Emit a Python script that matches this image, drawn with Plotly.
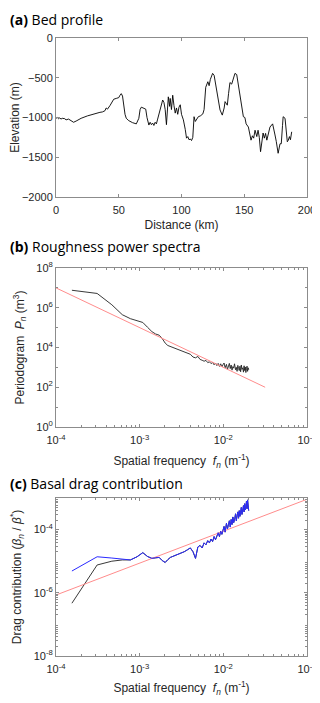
import plotly.graph_objects as go
from plotly.subplots import make_subplots

# (a) bed profile along the flowline
distance_km = [
    0, 1, 2, 3, 4, 5, 7, 8, 10, 12, 14, 16, 20, 25, 30, 35, 37, 39, 40, 41,
    43, 46, 48, 50, 51, 52, 53, 54, 55, 56, 58, 61, 64, 66, 67, 68, 70, 71.5,
    72.5, 74, 75, 76, 77, 78, 79, 80, 81, 83, 85, 86, 87, 88, 89, 89.5, 90.5,
    91, 92, 93, 94, 95, 96, 97, 98, 99, 100, 101.5, 103, 104, 105, 106, 107,
    108, 109, 110, 111, 112, 113.4, 115, 117, 118, 119.3, 121, 122, 123,
    124.8, 126, 127, 128, 129.5, 130.7, 132.5, 134, 134.7, 135.5, 136.5,
    137.5, 138.6, 140, 141, 142.6, 144, 145, 146.6, 148, 149.3, 150.5, 151.5,
    153.3, 154.5, 155.4, 156.5, 157.5, 158.6, 160, 161, 162, 163, 164, 165,
    166, 167, 168, 169.5, 170.5, 172.6, 173.5, 174.5, 175.5, 177, 178.5,
    179.5, 180.5, 181, 182.5, 183.5, 184.3, 185, 186, 186.8, 187.8,
]
elevation_m = [
    -1010, -1000, -1015, -1005, -1020, -1010, -1015, -1030, -1020, -1040,
    -1060, -1045, -1010, -980, -955, -935, -930, -915, -880, -895, -850, -770,
    -760, -750, -720, -700, -730, -860, -960, -1010, -1040, -1065, -1080,
    -1010, -900, -870, -880, -895, -1000, -1095, -1060, -1090, -1070, -1100,
    -1060, -1080, -1020, -880, -780, -810, -900, -1090, -800, -740, -860,
    -760, -900, -720, -850, -945, -880, -960, -870, -840, -960, -1030, -1150,
    -1260, -1240, -1280, -1270, -1290, -1250, -990, -1050, -1030, -990, -980,
    -955, -900, -620, -550, -600, -520, -445, -470, -560, -700, -820, -905,
    -970, -880, -800, -830, -845, -700, -560, -580, -520, -445, -460, -560,
    -700, -850, -990, -1000, -1080, -1120, -1200, -1285, -1230, -1260, -1160,
    -1240, -1160, -1250, -1430, -1300, -1195, -1260, -1200, -1285, -1200,
    -1120, -1080, -1130, -1220, -1300, -1450, -1330, -1330, -1100, -990,
    -1010, -1150, -1305, -1290, -1240, -1280, -1180,
]

# (b), (c) spectral frequencies (m^-1)
freq = [
    1.55e-4, 3.1e-4, 4.65e-4, 6.2e-4, 7.75e-4, 9.3e-4, 1.09e-3, 1.24e-3,
    1.40e-3, 1.55e-3, 1.71e-3, 1.86e-3, 2.02e-3, 2.17e-3, 2.33e-3, 2.48e-3,
    2.79e-3, 3.10e-3, 3.41e-3, 3.72e-3, 4.03e-3, 4.34e-3, 4.65e-3, 4.96e-3,
    5.27e-3, 5.58e-3, 5.89e-3, 6.20e-3, 6.51e-3, 6.82e-3, 7.13e-3, 7.44e-3,
    7.75e-3, 8.06e-3, 8.37e-3, 8.68e-3, 8.99e-3, 9.30e-3, 9.61e-3, 9.92e-3,
    1.02e-2, 1.05e-2, 1.09e-2, 1.12e-2, 1.15e-2, 1.18e-2, 1.21e-2, 1.24e-2,
    1.27e-2, 1.30e-2, 1.33e-2, 1.36e-2, 1.40e-2, 1.43e-2, 1.46e-2, 1.49e-2,
    1.52e-2, 1.55e-2, 1.58e-2, 1.61e-2, 1.64e-2, 1.67e-2, 1.71e-2, 1.74e-2,
    1.77e-2, 1.80e-2, 1.83e-2, 1.86e-2, 1.89e-2, 1.92e-2, 1.95e-2, 1.98e-2,
    2.01e-2,
]
# log10 of periodogram P_n (m^3)
log_periodogram = [
    6.88, 6.72, 6.15, 5.65, 5.45, 5.36, 5.26, 5.02, 4.80, 4.68, 4.62, 4.45,
    4.22, 4.10, 4.05, 4.01,
    3.93, 3.86, 3.76, 3.70, 3.66, 3.52, 3.48, 3.55, 3.40, 3.36, 3.31, 3.35,
    3.24, 3.28, 3.19, 3.25, 3.13, 3.22, 3.09, 3.20, 3.05, 3.18, 3.02, 3.14,
    3.22, 2.98, 3.15, 2.90, 3.08, 3.20, 2.94, 3.12, 2.86, 3.04, 2.96, 3.18,
    2.88, 3.00, 2.80, 3.10, 2.95, 2.84, 3.06, 2.78, 3.12, 2.90, 2.98, 2.76,
    3.08, 2.84, 3.02, 2.74, 2.94, 3.06, 2.80, 2.98, 2.88,
]
# log10 of drag contribution beta_n / beta*
log_drag_blue = [
    -5.31, -4.86, -4.90, -4.93, -4.96, -4.86, -4.73, -4.85, -4.91, -4.89,
    -4.88, -4.98, -5.04, -4.95, -4.88, -4.85,
    -4.80, -4.76, -4.70, -4.64, -4.58, -4.70, -4.91, -4.55, -4.50, -4.58,
    -4.42, -4.48, -4.35, -4.42, -4.30, -4.38, -4.22, -4.32, -4.18, -4.10,
    -4.22, -4.05, -4.15, -3.98,
    -3.90, -4.08, -3.80, -3.98, -3.86, -3.72, -3.92, -3.68, -3.84, -3.60,
    -3.78, -3.70, -3.50, -3.72, -3.56, -3.44, -3.64, -3.40, -3.58, -3.46,
    -3.30, -3.52, -3.36, -3.24, -3.44, -3.18, -3.38, -3.30, -3.10, -3.34,
    -3.06, -3.22, -3.40,
]
log_drag_black_head = [-6.33, -5.12, -5.00, -4.96]
log_drag_black = log_drag_black_head + log_drag_blue[4:]

# power-law reference lines
fit_b_freq = [1e-4, 3.16e-2]
fit_b_P = [1e7, 1e2]
fit_c_freq = [1e-4, 1e-1]
fit_c_drag = [8.5e-7, 9.1e-4]

AX = "#8c8c8c"
TXT = "#262626"
FONT = "Liberation Sans, Arial, sans-serif"

fig = make_subplots(rows=3, cols=1)

fig.add_trace(go.Scatter(x=distance_km, y=elevation_m, mode="lines",
                         line=dict(color="black", width=0.9)), row=1, col=1)

fig.add_trace(go.Scatter(x=freq, y=[10 ** v for v in log_periodogram], mode="lines",
                         line=dict(color="#222222", width=0.9)), row=2, col=1)
fig.add_trace(go.Scatter(x=fit_b_freq, y=fit_b_P, mode="lines",
                         line=dict(color="#ff8c8c", width=1)), row=2, col=1)

fig.add_trace(go.Scatter(x=freq, y=[10 ** v for v in log_drag_black], mode="lines",
                         line=dict(color="#222222", width=0.9)), row=3, col=1)
fig.add_trace(go.Scatter(x=fit_c_freq, y=fit_c_drag, mode="lines",
                         line=dict(color="#ff8c8c", width=1)), row=3, col=1)
fig.add_trace(go.Scatter(x=freq, y=[10 ** v for v in log_drag_blue], mode="lines",
                         line=dict(color="#2a2aff", width=1)), row=3, col=1)

# the page body keeps its default 8px margin, so work in window pixels minus 8
OFF = 8
W, H = 320 - OFF, 703 - OFF


def px_x(x):
    return (x - OFF) / W


def px_y(y):
    return 1 - (y - OFF) / H


def ydom(top, bottom):
    return [px_y(bottom), px_y(top)]


xdom = [px_x(56), px_x(307)]
common = dict(showline=True, linecolor=AX, linewidth=1, mirror="ticks",
              ticks="inside", ticklen=3, tickcolor=AX, showgrid=False,
              zeroline=False, automargin=False,
              tickfont=dict(family=FONT, size=11, color=TXT),
              title_font=dict(family=FONT, size=12, color=TXT))


def log_minor(lo, hi):
    return [m * 10.0 ** k for k in range(lo, hi) for m in range(2, 10)]


def pow_text(exps):
    return ["10<sup>%d</sup>" % e for e in exps]


fig.update_xaxes(common)
fig.update_yaxes(common)
fig.update_xaxes(ticklabelstandoff=3)

fig.update_xaxes(row=1, col=1, domain=xdom, range=[0, 200], tickvals=[0, 50, 100, 150, 200],
                 title_text="Distance (km)", title_standoff=5)
fig.update_yaxes(row=1, col=1, domain=ydom(38, 197), range=[-2000, 0],
                 tickvals=[-2000, -1500, -1000, -500, 0], title_text="Elevation (m)",
                 title_standoff=6)

xexp = [-4, -3, -2, -1]
minor_x = dict(ticks="inside", ticklen=2, tickcolor=AX, tickmode="array",
               tickvals=log_minor(-4, -1))
fig.update_xaxes(row=2, col=1, domain=xdom, type="log", range=[-4, -1],
                 tickvals=[10.0 ** e for e in xexp], ticktext=pow_text(xexp), minor=minor_x,
                 title_text="Spatial frequency  <i>f</i><sub><i>n</i></sub> (m<sup>-1</sup>)",
                 title_standoff=11)
bexp = [0, 2, 4, 6, 8]
fig.update_yaxes(row=2, col=1, domain=ydom(268, 427), type="log", range=[0, 8],
                 tickvals=[10.0 ** e for e in bexp], ticktext=pow_text(bexp),
                 minor=dict(ticks="inside", ticklen=2, tickcolor=AX, tickmode="array",
                            tickvals=[10.0 ** k for k in range(1, 8, 2)]),
                 title_text="Periodogram  <i>P</i><sub><i>n</i></sub> (m<sup>3</sup>)",
                 title_standoff=9)

fig.update_xaxes(row=3, col=1, domain=xdom, type="log", range=[-4, -1],
                 tickvals=[10.0 ** e for e in xexp], ticktext=pow_text(xexp), minor=minor_x,
                 title_text="Spatial frequency  <i>f</i><sub><i>n</i></sub> (m<sup>-1</sup>)",
                 title_standoff=9)
cexp = [-8, -6, -4]
fig.update_yaxes(row=3, col=1, domain=ydom(498, 656), type="log", range=[-8, -3],
                 tickvals=[10.0 ** e for e in cexp], ticktext=pow_text(cexp),
                 minor=dict(ticks="inside", ticklen=2, tickcolor=AX, tickmode="array",
                            tickvals=log_minor(-8, -3)),
                 title_text="Drag contribution (<i>β</i><sub><i>n</i></sub> / <i>β</i><sup>*</sup>)",
                 title_standoff=10)

TITLE_FONT = dict(family="Open Sans, Lato, sans-serif", size=14, color="black")
panel_titles = [("(a)", "Bed profile", 1.0, "top"),
                ("(b)", "Roughness power spectra", px_y(246), "middle"),
                ("(c)", "Basal drag contribution", px_y(483), "middle")]
for label, name, ypos, yanc in panel_titles:
    fig.add_annotation(xref="paper", yref="paper", x=0, y=ypos,
                       xanchor="left", yanchor=yanc, showarrow=False,
                       text="<b>%s</b> %s" % (label, name), font=TITLE_FONT)

fig.update_layout(width=W, height=H, margin=dict(l=0, r=0, t=0, b=0),
                  paper_bgcolor="white", plot_bgcolor="white", showlegend=False)

fig.write_html("out.html")
